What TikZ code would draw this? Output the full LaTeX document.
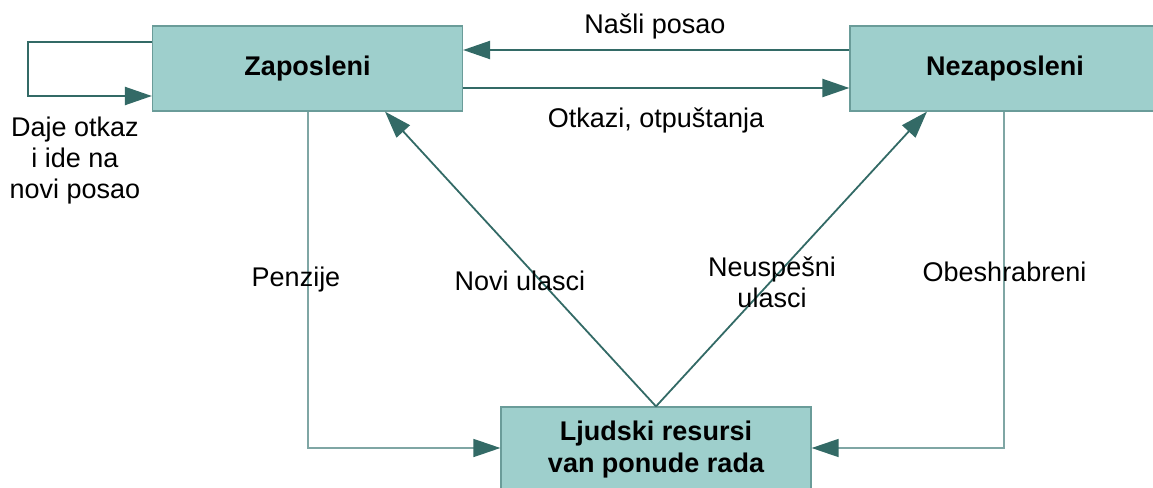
\documentclass[tikz,border=0pt]{standalone}
\usepackage{fontspec}
\setmainfont{Liberation Sans}
\usetikzlibrary{arrows.meta}
\definecolor{boxfill}{HTML}{9ECFCC}
\definecolor{boxline}{HTML}{6A9C99}
\definecolor{flow}{HTML}{336A66}
\definecolor{exitline}{HTML}{7FA6A4}
\tikzset{
  state/.style={draw=boxline, line width=1.2pt, fill=boxfill,
    minimum width=310pt, minimum height=85pt, inner sep=0pt,
    font=\fontsize{27}{32}\selectfont\bfseries, align=center},
  flowarrow/.style={draw=flow, line width=2.2pt,
    -{Triangle[length=27pt,width=18pt]}},
  exitarrow/.style={draw=exitline, line width=1.5pt,
    -{Triangle[length=27pt,width=18pt,fill=flow,color=flow]}},
  lbl/.style={font=\fontsize{27}{31}\selectfont, align=center, inner sep=0pt}
}
\begin{document}
\begin{tikzpicture}[x=1pt,y=-1pt]
\useasboundingbox (0,0) rectangle (1153,487);

% the three labour-market states
\node[state] (Z) at (307.5,68.5) {Zaposleni};
\node[state] (N) at (1005,68.5) {Nezaposleni};
\node[state] (L) at (656,449.5) {Ljudski resursi\\van ponude rada};

% job-to-job moves
\draw[flowarrow] ([yshift=26.5pt]Z.west) -- ++(-124,0) |- ([yshift=-27.5pt]Z.west);
\node[lbl] (loop) at (75,161) {Daje otkaz\\i ide na\\novi posao};

% flows between employed and unemployed
\draw[flowarrow] ([yshift=18.5pt]N.west) -- ([yshift=18.5pt]Z.east);
\node[lbl] (found) at (655,26) {Našli posao};
\draw[flowarrow] ([yshift=-19.5pt]Z.east) -- ([yshift=-19.5pt]N.west);
\node[lbl] (fired) at (656,120) {Otkazi, otpuštanja};

% exits from the labour force
\draw[exitarrow] ([xshift=0.5pt]Z.south) |- ([yshift=1.5pt]L.west);
\node[lbl] (ret) at (296,280) {Penzije};
\draw[exitarrow] ([xshift=-1pt]N.south) |- ([yshift=1.5pt]L.east);
\node[lbl] (disc) at (1004.5,272) {Obeshrabreni};

% entries into the labour force
\draw[flowarrow, line width=1.8pt] (L.north) -- ([xshift=77.5pt]Z.south);
\node[lbl] (newin) at (520,281) {Novi ulasci};
\draw[flowarrow, line width=1.8pt] (L.north) -- ([xshift=-78pt]N.south);
\node[lbl] (failin) at (772,282) {Neuspešni\\ulasci};
\end{tikzpicture}
\end{document}
